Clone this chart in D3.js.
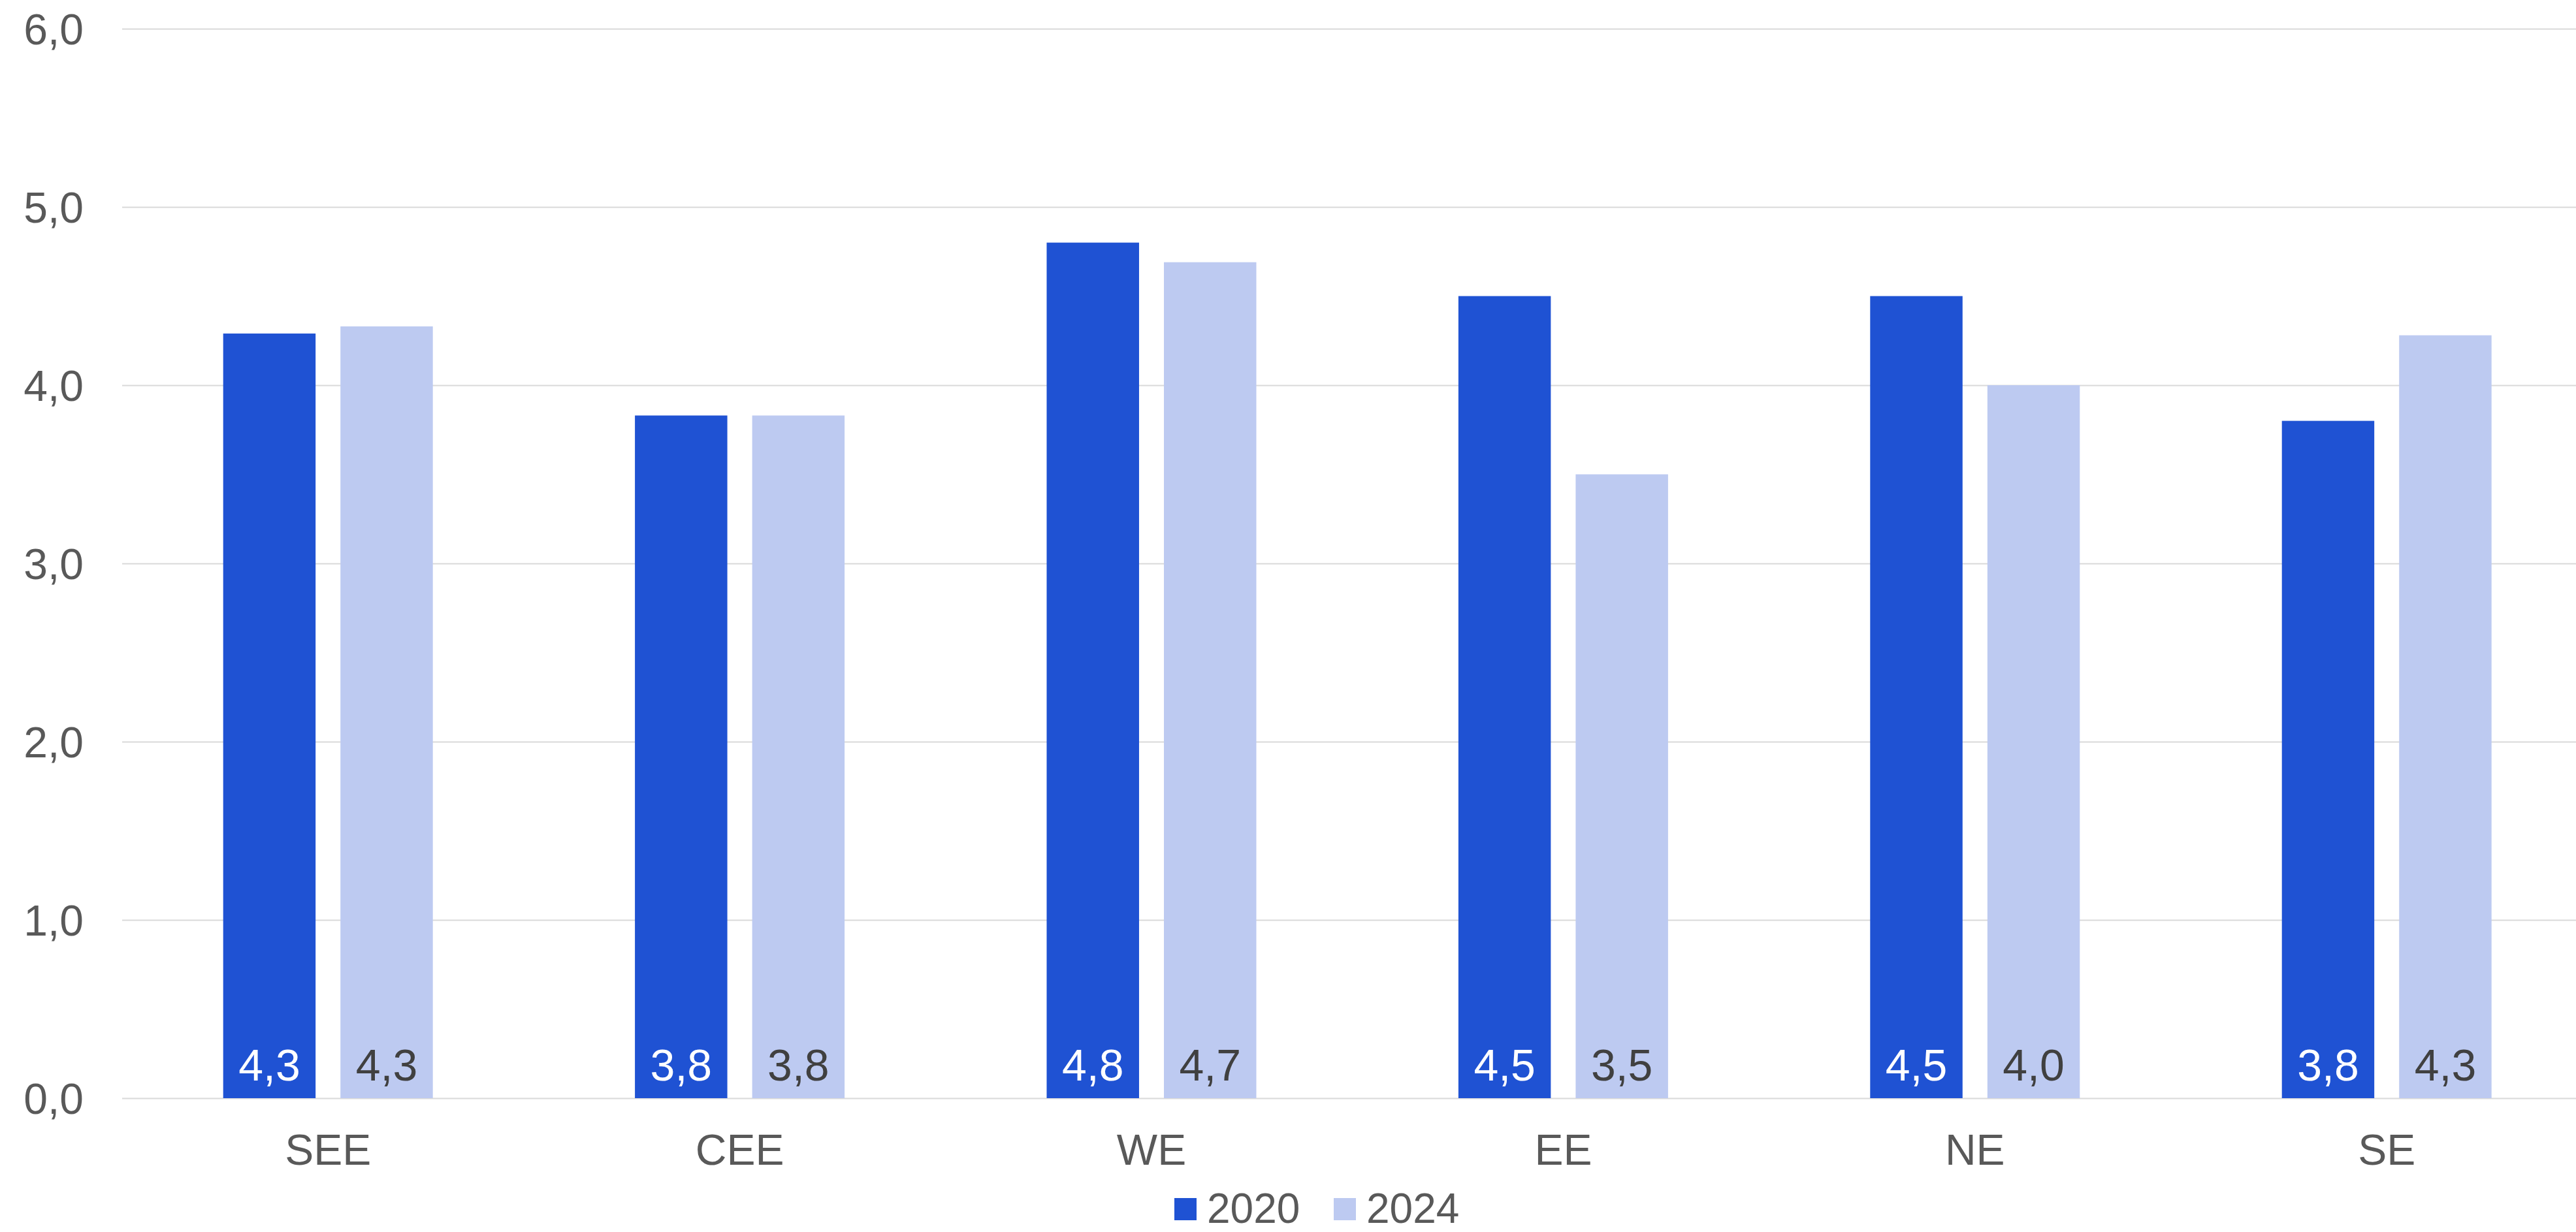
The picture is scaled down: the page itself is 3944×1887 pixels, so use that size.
<!DOCTYPE html>
<html>
<head>
<meta charset="utf-8">
<script src="https://cdn.jsdelivr.net/npm/d3@7"></script>
<style>
  html, body { margin: 0; padding: 0; background: #fff; }
  svg { display: block; font-family: "Liberation Sans", Arial, sans-serif; }
</style>
</head>
<body>
<div id="dataviz"></div>
<script>
// data
var regions = ["SEE", "CEE", "WE", "EE", "NE", "SE"];
var years = ["2020", "2024"];
var values2020 = [4.29, 3.83, 4.80, 4.50, 4.50, 3.80];
var values2024 = [4.33, 3.83, 4.69, 3.50, 4.00, 4.28];
var yTicks = [0, 1, 2, 3, 4, 5, 6];

// colours
var color2020 = "#1f52d3";
var color2024 = "#bdcaf1";
var textColor = "#595959";
var gridColor = "#d9d9d9";

var width = 3944, height = 1887;

var svg = d3.select("#dataviz")
    .append("svg")
    .attr("width", width)
    .attr("height", height);

var rows = regions.map(function (r, i) {
    return { region: r, values: [
        { year: "2020", value: values2020[i] },
        { year: "2024", value: values2024[i] }
    ] };
});

// scales
var x = d3.scaleBand()
    .domain(regions)
    .range([187, 187 + 6 * 630.4]);

var xSub = d3.scaleBand()
    .domain(years)
    .range([-160.5, 160.5])
    .paddingInner(0.212);

var y = d3.scaleLinear()
    .domain([0, 6])
    .range([1682, 44]);

var color = d3.scaleOrdinal()
    .domain(years)
    .range([color2020, color2024]);

var fmt = function (v) { return d3.format(".1f")(v).replace(".", ","); };

// gridlines
var yAxis = svg.append("g")
    .attr("transform", "translate(187,0)")
    .call(d3.axisLeft(y)
        .tickValues(yTicks)
        .tickSize(-(width - 187))
        .tickPadding(59)
        .tickFormat(fmt));

yAxis.select(".domain").remove();
yAxis.selectAll(".tick line")
    .attr("stroke", gridColor)
    .attr("stroke-width", 2);
yAxis.selectAll(".tick text")
    .attr("fill", textColor)
    .attr("font-size", "66px")
    .attr("font-family", "Liberation Sans, Arial, sans-serif")
    .attr("dy", "0.36em");

// bars
var groups = svg.selectAll(".group")
    .data(rows)
    .enter().append("g")
    .attr("class", "group")
    .attr("transform", function (d) { return "translate(" + (x(d.region) + x.bandwidth() / 2) + ",0)"; });

groups.selectAll("rect")
    .data(function (d) { return d.values; })
    .enter().append("rect")
    .attr("x", function (d) { return xSub(d.year); })
    .attr("width", xSub.bandwidth())
    .attr("y", function (d) { return y(d.value); })
    .attr("height", function (d) { return y(0) - y(d.value); })
    .attr("fill", function (d) { return color(d.year); });

// value labels at the foot of each bar
groups.selectAll(".val")
    .data(function (d) { return d.values; })
    .enter().append("text")
    .attr("class", "val")
    .attr("x", function (d) { return xSub(d.year) + xSub.bandwidth() / 2; })
    .attr("y", y(0) - 27)
    .attr("text-anchor", "middle")
    .attr("font-size", "68px")
    .attr("fill", function (d) { return d.year == "2020" ? "#ffffff" : "#404040"; })
    .text(function (d) { return fmt(d.value); });

// category labels
var xAxis = svg.append("g")
    .attr("transform", "translate(0," + y(0) + ")")
    .call(d3.axisBottom(x).tickSize(0).tickPadding(0));
xAxis.select(".domain").remove();
xAxis.selectAll(".tick text")
    .attr("fill", textColor)
    .attr("font-size", "66px")
    .attr("font-family", "Liberation Sans, Arial, sans-serif")
    .attr("dy", null)
    .attr("y", 102);

// legend (kept just inside the bottom edge)
var legend = svg.append("g")
    .attr("transform", "translate(1798,0)");

var legendItems = legend.selectAll(".item")
    .data(years)
    .enter().append("g")
    .attr("class", "item")
    .attr("transform", function (d, i) { return "translate(" + (i * 244) + ",0)"; });

legendItems.append("rect")
    .attr("y", 1835)
    .attr("width", 34)
    .attr("height", 34)
    .attr("fill", function (d) { return color(d); });

legendItems.append("text")
    .attr("x", 50)
    .attr("y", 1873)
    .attr("font-size", "64px")
    .attr("fill", textColor)
    .text(function (d) { return d; });
</script>
</body>
</html>
